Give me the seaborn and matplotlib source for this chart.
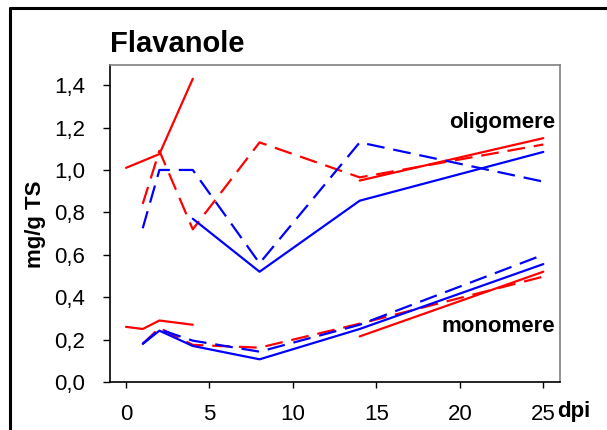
import matplotlib
matplotlib.use("Agg")
import matplotlib.pyplot as plt
import pandas as pd
import seaborn as sns
from matplotlib.lines import Line2D

# ---- data: mg/g TS over days post inoculation (dpi) ----
# each series: sampling days, values, run id (a new run starts a new line piece)
oligo_red_solid_dpi = [0, 2, 4, 14, 25]
oligo_red_solid = [1.01, 1.075, 1.43, 0.95, 1.15]
oligo_red_solid_run = [1, 1, 1, 2, 2]

oligo_red_dashed_dpi = [1, 2, 4, 8, 14, 25]
oligo_red_dashed = [0.84, 1.09, 0.72, 1.13, 0.965, 1.12]
oligo_red_dashed_run = [1, 1, 1, 1, 1, 1]

oligo_blue_solid_dpi = [4, 8, 14, 25]
oligo_blue_solid = [0.77, 0.52, 0.855, 1.085]
oligo_blue_solid_run = [1, 1, 1, 1]

oligo_blue_dashed_dpi = [1, 2, 4, 8, 14, 25]
oligo_blue_dashed = [0.725, 1.0, 1.0, 0.56, 1.13, 0.945]
oligo_blue_dashed_run = [1, 1, 1, 1, 1, 1]

mono_red_solid_dpi = [0, 1, 2, 4, 14, 25]
mono_red_solid = [0.26, 0.25, 0.29, 0.27, 0.215, 0.52]
mono_red_solid_run = [1, 1, 1, 1, 2, 2]

mono_red_dashed_dpi = [1, 2, 4, 8, 14, 25]
mono_red_dashed = [0.18, 0.255, 0.175, 0.162, 0.275, 0.497]
mono_red_dashed_run = [1, 1, 1, 1, 1, 1]

mono_blue_solid_dpi = [1, 2, 4, 8, 14, 25]
mono_blue_solid = [0.18, 0.242, 0.17, 0.107, 0.25, 0.556]
mono_blue_solid_run = [1, 1, 1, 1, 1, 1]

mono_blue_dashed_dpi = [1, 2, 4, 8, 14, 25]
mono_blue_dashed = [0.18, 0.248, 0.195, 0.143, 0.27, 0.6]
mono_blue_dashed_run = [1, 1, 1, 1, 1, 1]

x_ticks = [0, 5, 10, 15, 20, 25]
y_ticks = [0.0, 0.2, 0.4, 0.6, 0.8, 1.0, 1.2, 1.4]
y_tick_labels = ["0,0", "0,2", "0,4", "0,6", "0,8", "1,0", "1,2", "1,4"]

title = "Flavanole"
y_label = "mg/g TS"
x_unit = "dpi"
group_labels = ["oligomere", "monomere"]

# ---- long table ----
series = [
    ("oligomere", "rot", "durchgezogen", oligo_red_solid_dpi, oligo_red_solid, oligo_red_solid_run),
    ("oligomere", "rot", "gestrichelt", oligo_red_dashed_dpi, oligo_red_dashed, oligo_red_dashed_run),
    ("oligomere", "blau", "durchgezogen", oligo_blue_solid_dpi, oligo_blue_solid, oligo_blue_solid_run),
    ("oligomere", "blau", "gestrichelt", oligo_blue_dashed_dpi, oligo_blue_dashed, oligo_blue_dashed_run),
    ("monomere", "rot", "durchgezogen", mono_red_solid_dpi, mono_red_solid, mono_red_solid_run),
    ("monomere", "rot", "gestrichelt", mono_red_dashed_dpi, mono_red_dashed, mono_red_dashed_run),
    ("monomere", "blau", "durchgezogen", mono_blue_solid_dpi, mono_blue_solid, mono_blue_solid_run),
    ("monomere", "blau", "gestrichelt", mono_blue_dashed_dpi, mono_blue_dashed, mono_blue_dashed_run),
]
rows = []
for grp, col, sty, xs, ys, runs in series:
    for x, y, r in zip(xs, ys, runs):
        rows.append({"dpi": x, "wert": y, "farbe": col, "linie": sty,
                     "variante": f"{col}-{sty}", "stueck": f"{grp}-{col}-{sty}-{r}"})
df = pd.DataFrame(rows)

sns.set_theme(style="white")
plt.rcParams["font.family"] = ["Liberation Sans", "DejaVu Sans"]
plt.rcParams["text.color"] = "black"
plt.rcParams["axes.labelcolor"] = "black"
plt.rcParams["xtick.color"] = "black"
plt.rcParams["ytick.color"] = "black"

W, H = 607, 430
fig = plt.figure(figsize=(W / 100, H / 100), dpi=100)
ax = fig.add_axes([110 / W, 1 - 382 / H, 450 / W, 317 / H])

palette = {"blau-durchgezogen": "#0000ff", "blau-gestrichelt": "#0000ff",
           "rot-durchgezogen": "#ff0000", "rot-gestrichelt": "#ff0000"}
dashes = {"blau-durchgezogen": "", "blau-gestrichelt": (8, 4),
          "rot-durchgezogen": "", "rot-gestrichelt": (8, 4)}
sns.lineplot(data=df, x="dpi", y="wert", hue="variante", style="variante",
             units="stueck", estimator=None, sort=False, palette=palette,
             dashes=dashes, linewidth=1.6, legend=False, ax=ax)

ax.set_xlim(-0.96, 26.0)
ax.set_ylim(0, 1.495)
ax.set_xticks(x_ticks)
ax.set_xticklabels([str(t) for t in x_ticks])
ax.set_yticks(y_ticks)
ax.set_yticklabels(y_tick_labels)
ax.set_xlabel("")
ax.set_ylabel("")
ax.tick_params(axis="y", direction="out", length=5, width=1, colors="black",
               labelsize=16, pad=13, left=True)
ax.tick_params(axis="x", direction="out", length=4, width=1, colors="black",
               labelsize=16, pad=12, bottom=True)
for side in ("left", "bottom"):
    ax.spines[side].set_color("black")
    ax.spines[side].set_linewidth(1.2)
for side in ("top", "right"):
    ax.spines[side].set_color("#808080")
    ax.spines[side].set_linewidth(1.2)
ax.grid(False)

# unit label just right of the last x tick label
ax.annotate(x_unit, xy=(25.85, 0), xycoords="data", xytext=(0, -21),
            textcoords="offset points", ha="left", va="center",
            fontsize=16, fontweight="bold")
# group labels
ax.text(25.7, 1.225, group_labels[0], ha="right", va="center", fontsize=16, fontweight="bold")
ax.text(25.7, 0.262, group_labels[1], ha="right", va="center", fontsize=16, fontweight="bold")

fig.text(110 / W, 1 - 44 / H, title, ha="left", va="center", fontsize=21, fontweight="bold")
fig.text(36 / W, 1 - 224 / H, y_label, ha="center", va="center", rotation=90,
         fontsize=16, fontweight="bold")

# frame lines along the left and top edge of the figure
fig.add_artist(Line2D([9.5 / W, 9.5 / W], [0, 1 - 8 / H], transform=fig.transFigure,
                      color="black", linewidth=2.2))
fig.add_artist(Line2D([9.5 / W, 1], [1 - 8 / H, 1 - 8 / H], transform=fig.transFigure,
                      color="black", linewidth=2.2))

fig.savefig("out.png", dpi=100)
